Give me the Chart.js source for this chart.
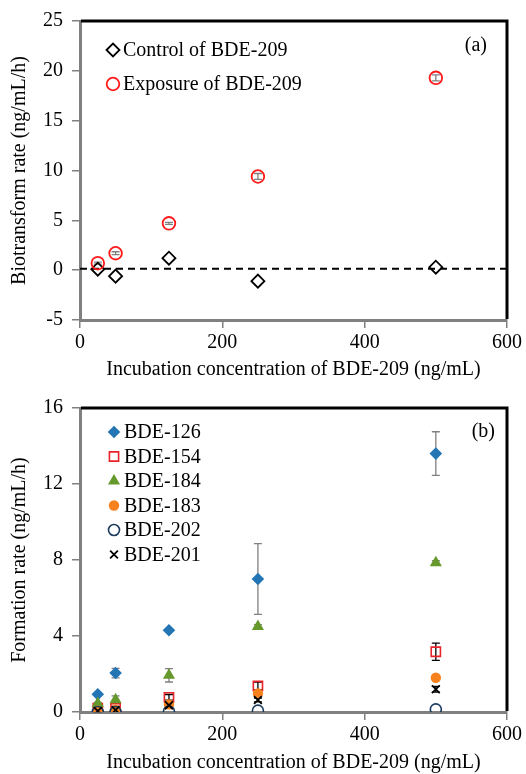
<!DOCTYPE html>
<html>
<head>
<meta charset="utf-8">
<script src="https://cdn.jsdelivr.net/npm/chart.js@4.4.1/dist/chart.umd.min.js"></script>
<style>
  body { margin: 0; background: #fff; }
  canvas { display: block; }
</style>
</head>
<body>
<canvas id="chartA" width="526" height="380"></canvas>
<canvas id="chartB" width="526" height="394"></canvas>
<script>
// incubation concentrations (ng/mL)
const conc = [25, 50, 125, 250, 500];

// (a) biotransform rate
const controlRate  = [0.1, -0.6, 1.2, -1.1, 0.3];
const exposureRate = [0.7, 1.7, 4.7, 9.4, 19.3];
const exposureErr  = [0.1, 0.15, 0.1, 0.3, 0.3];
const baselineX = [0, 600];
const baselineY = [0.15, 0.15];

// (b) formation rate
const bde126 = [0.93, 2.05, 4.3, 7.0, 13.6];
const bde126Err = [0.05, 0.25, 0.05, 1.86, 1.15];
const bde154 = [0.2, 0.2, 0.77, 1.37, 3.17];
const bde154Err = [0.05, 0.05, 0.15, 0.2, 0.45];
const bde184 = [0.45, 0.65, 1.93, 4.5, 7.86];
const bde184Err = [0.05, 0.2, 0.35, 0.1, 0.1];
const bde183 = [0.07, 0.12, 0.4, 0.98, 1.8];
const bde202 = [0.0, 0.0, 0.03, 0.07, 0.14];
const bde201 = [0.05, 0.1, 0.35, 0.63, 1.2];
const bde201Err = [0.03, 0.03, 0.1, 0.1, 0.15];

const xTicks = [0, 200, 400, 600];
const yTicksA = [-5, 0, 5, 10, 15, 20, 25];
const yTicksB = [0, 4, 8, 12, 16];

Chart.defaults.font.family = "'Liberation Serif', 'Times New Roman', serif";
Chart.defaults.font.size = 20;
Chart.defaults.color = "#000";
Chart.defaults.animation = false;

const pts = ys => ys.map((y, i) => ({ x: conc[i], y }));

// ── plugins ──────────────────────────────────────────────

// error bars sit behind the markers, like the original
const errorBars = {
  id: "errorBars",
  beforeDatasetsDraw(chart) {
    const { ctx, scales: { x, y } } = chart;
    chart.data.datasets.forEach(ds => {
      if (!ds.err) return;
      ctx.save();
      ctx.strokeStyle = ds.errColor || "#808080";
      ctx.lineWidth = 1.3;
      ds.data.forEach((p, i) => {
        const e = ds.err[i];
        if (!e) return;
        const px = x.getPixelForValue(p.x);
        const top = y.getPixelForValue(p.y + e);
        const bot = y.getPixelForValue(p.y - e);
        ctx.beginPath();
        ctx.moveTo(px, top); ctx.lineTo(px, bot);
        ctx.moveTo(px - 4, top); ctx.lineTo(px + 4, top);
        ctx.moveTo(px - 4, bot); ctx.lineTo(px + 4, bot);
        ctx.stroke();
      });
      ctx.restore();
    });
  }
};

const frame = {
  id: "frame",
  afterDraw(chart) {
    const { ctx, chartArea: a } = chart;
    ctx.save();
    ctx.strokeStyle = "#000";
    ctx.lineWidth = 3;
    ctx.beginPath();
    ctx.moveTo(a.left + 1, a.top);
    ctx.lineTo(a.right, a.top);
    ctx.lineTo(a.right, a.bottom - 1);
    ctx.stroke();
    ctx.restore();
  }
};

const insideLegend = {
  id: "insideLegend",
  afterDraw(chart, args, opts) {
    const { ctx, chartArea: a } = chart;
    ctx.save();
    ctx.font = "20px 'Liberation Serif', 'Times New Roman', serif";
    ctx.textBaseline = "middle";
    ctx.fillStyle = "#000";
    let row = 0;
    chart.data.datasets.forEach(ds => {
      if (!ds.label) return;
      const y = a.top + opts.y0 + row * opts.dy;
      const mx = a.left + opts.x0;
      ctx.save();
      ctx.fillStyle = ds.backgroundColor;
      ctx.strokeStyle = ds.borderColor;
      ctx.lineWidth = ds.borderWidth;
      Chart.helpers.drawPoint(ctx, {
        pointStyle: ds.pointStyle, radius: ds.pointRadius,
        rotation: 0, borderWidth: ds.borderWidth
      }, mx, y);
      ctx.restore();
      ctx.fillText(ds.label, mx + 10, y + 1);
      row++;
    });
    ctx.textAlign = "right";
    ctx.fillText(opts.tag, a.right - opts.tagRight, a.top + opts.tagY);
    ctx.restore();
  }
};

function scales(yMin, yMax, yTicks, yTitle, xHeight, xTitlePad) {
  return {
    x: {
      type: "linear", min: 0, max: 600,
      afterBuildTicks: s => { s.ticks = xTicks.map(v => ({ value: v })); },
      ticks: { padding: 3, color: "#000" },
      grid: { drawOnChartArea: false, tickLength: 8, color: "#808080", lineWidth: 1.5 },
      border: { color: "#808080", width: 3 },
      title: {
        display: true, text: "Incubation concentration of BDE-209 (ng/mL)",
        font: { size: 20, lineHeight: 1 }, padding: { top: 0, bottom: xTitlePad }
      },
      afterFit: s => { s.height = xHeight; }
    },
    y: {
      min: yMin, max: yMax,
      afterBuildTicks: s => { s.ticks = yTicks.map(v => ({ value: v })); },
      ticks: { padding: 9, color: "#000" },
      grid: { drawOnChartArea: false, tickLength: 8, color: "#808080", lineWidth: 1.5 },
      border: { color: "#808080", width: 3 },
      title: {
        display: true, text: yTitle,
        font: { size: 20, lineHeight: 1 }, padding: { top: 10, bottom: 0 }
      },
      afterFit: s => { s.width = 80; }
    }
  };
}

// ── (a) ──────────────────────────────────────────────────
new Chart(document.getElementById("chartA"), {
  type: "scatter",
  data: {
    datasets: [
      {
        label: "Control of BDE-209", data: pts(controlRate),
        pointStyle: "rectRot", pointRadius: 6.5, borderWidth: 1.8,
        borderColor: "#000", backgroundColor: "rgba(0,0,0,0)", order: 1
      },
      {
        label: "Exposure of BDE-209", data: pts(exposureRate),
        err: exposureErr, errColor: "#808080",
        pointStyle: "circle", pointRadius: 6.3, borderWidth: 1.8,
        borderColor: "#ff1a1a", backgroundColor: "rgba(0,0,0,0)", order: 0
      },
      {
        type: "line", data: baselineX.map((x, i) => ({ x, y: baselineY[i] })),
        borderColor: "#000", borderWidth: 2, borderDash: [7, 5],
        pointRadius: 0, order: 2
      }
    ]
  },
  options: {
    responsive: false,
    layout: { padding: { top: 20, right: 19, left: 0, bottom: 0 } },
    plugins: {
      legend: { display: false }, tooltip: { enabled: false },
      insideLegend: { x0: 33, y0: 29, dy: 34, tag: "(a)", tagRight: 20, tagY: 25 }
    },
    scales: scales(-5, 25, yTicksA, "Biotransform rate (ng/mL/h)", 60, 0)
  },
  plugins: [errorBars, frame, insideLegend]
});

// ── (b) ──────────────────────────────────────────────────
new Chart(document.getElementById("chartB"), {
  type: "scatter",
  data: {
    datasets: [
      {
        label: "BDE-126", data: pts(bde126), err: bde126Err, errColor: "#808080",
        pointStyle: "rectRot", pointRadius: 6.3, borderWidth: 0,
        borderColor: "#2475b4", backgroundColor: "#2475b4", order: 6
      },
      {
        label: "BDE-154", data: pts(bde154), err: bde154Err, errColor: "#000",
        pointStyle: "rect", pointRadius: 6.5, borderWidth: 1.6,
        borderColor: "#e8232a", backgroundColor: "rgba(0,0,0,0)", order: 5
      },
      {
        label: "BDE-184", data: pts(bde184), err: bde184Err, errColor: "#808080",
        pointStyle: "triangle", pointRadius: 7, borderWidth: 0,
        borderColor: "#66992b", backgroundColor: "#66992b", order: 4
      },
      {
        label: "BDE-183", data: pts(bde183),
        pointStyle: "circle", pointRadius: 5.2, borderWidth: 0,
        borderColor: "#f7811f", backgroundColor: "#f7811f", order: 3
      },
      {
        label: "BDE-202", data: pts(bde202),
        pointStyle: "circle", pointRadius: 5.5, borderWidth: 1.6,
        borderColor: "#1c3a5e", backgroundColor: "rgba(0,0,0,0)", order: 2
      },
      {
        label: "BDE-201", data: pts(bde201), err: bde201Err, errColor: "#000",
        pointStyle: "crossRot", pointRadius: 5.5, borderWidth: 1.8,
        borderColor: "#000", backgroundColor: "#000", order: 1
      }
    ]
  },
  options: {
    responsive: false,
    layout: { padding: { top: 28, right: 19, left: 0, bottom: 0 } },
    plugins: {
      legend: { display: false }, tooltip: { enabled: false },
      insideLegend: { x0: 34, y0: 24, dy: 24.5, tag: "(b)", tagRight: 12, tagY: 24 }
    },
    scales: scales(0, 16, yTicksB, "Formation rate (ng/mL/h)", 62, 1)
  },
  plugins: [errorBars, frame, insideLegend]
});
</script>
</body>
</html>
